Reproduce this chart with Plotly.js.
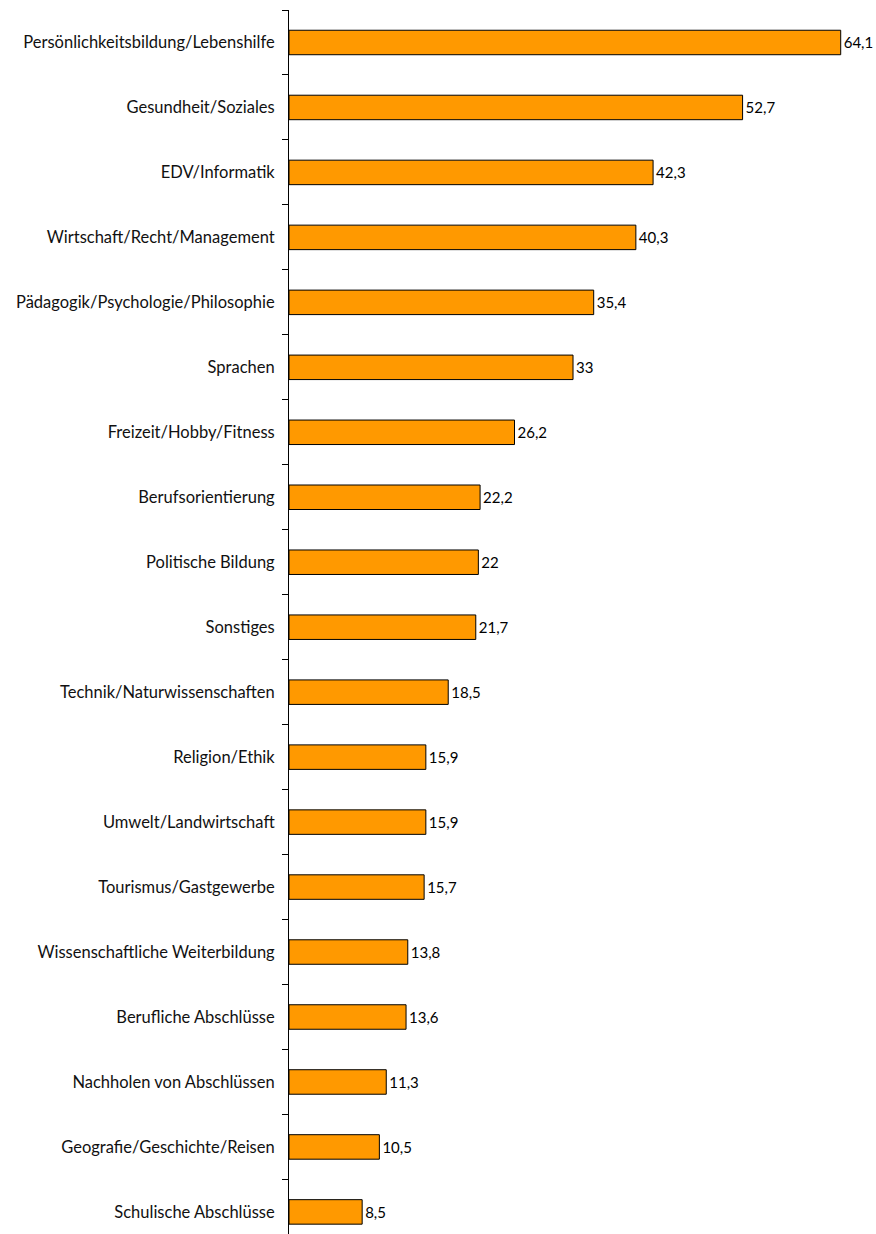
<!DOCTYPE html>
<html><head><meta charset="utf-8">
<script src="https://cdn.plot.ly/plotly-3.0.1.min.js"></script>
<style>body{margin:0;background:#fff}#chart{width:876px;height:1234px}</style>
</head><body><div id="chart"></div>
<script>
const categories = [
  "Persönlichkeitsbildung/Lebenshilfe",
  "Gesundheit/Soziales",
  "EDV/Informatik",
  "Wirtschaft/Recht/Management",
  "Pädagogik/Psychologie/Philosophie",
  "Sprachen",
  "Freizeit/Hobby/Fitness",
  "Berufsorientierung",
  "Politische Bildung",
  "Sonstiges",
  "Technik/Naturwissenschaften",
  "Religion/Ethik",
  "Umwelt/Landwirtschaft",
  "Tourismus/Gastgewerbe",
  "Wissenschaftliche Weiterbildung",
  "Berufliche Abschlüsse",
  "Nachholen von Abschlüssen",
  "Geografie/Geschichte/Reisen",
  "Schulische Abschlüsse"
];
const values = [64.1, 52.7, 42.3, 40.3, 35.4, 33, 26.2, 22.2, 22, 21.7, 18.5, 15.9, 15.9, 15.7, 13.8, 13.6, 11.3, 10.5, 8.5];
const valueLabels = values.map(v => String(v).replace('.', ','));

const trace = {
  type: 'bar',
  orientation: 'h',
  y: categories,
  x: values,
  text: valueLabels,
  textposition: 'outside',
  constraintext: 'none',
  cliponaxis: false,
  textfont: {family: 'Lato, sans-serif', size: 15, color: '#000'},
  width: 0.377,
  marker: {color: '#FF9900', line: {color: '#000', width: 1}},
  hoverinfo: 'none'
};

const layout = {
  width: 876, height: 1234,
  margin: {l: 289, r: 0, t: 9.5, b: 0},
  paper_bgcolor: '#fff', plot_bgcolor: '#fff',
  showlegend: false,
  font: {family: 'Lato, sans-serif', size: 15, color: '#000'},
  xaxis: {range: [0, 68.2], visible: false, showgrid: false, zeroline: false},
  yaxis: {
    type: 'category',
    range: [18.34, -0.5],
    autorange: false,
    showline: true, linecolor: '#000', linewidth: 1,
    ticks: 'outside', ticklen: 6, tickcolor: '#000', tickwidth: 1,
    tickson: 'boundaries',
    showgrid: false, zeroline: false,
    ticklabelstandoff: 10,
    tickfont: {family: 'Lato, sans-serif', size: 16.5, color: '#111'}
  }
};

Plotly.newPlot('chart', [trace], layout, {displayModeBar: false, staticPlot: true});
</script>
</body></html>
